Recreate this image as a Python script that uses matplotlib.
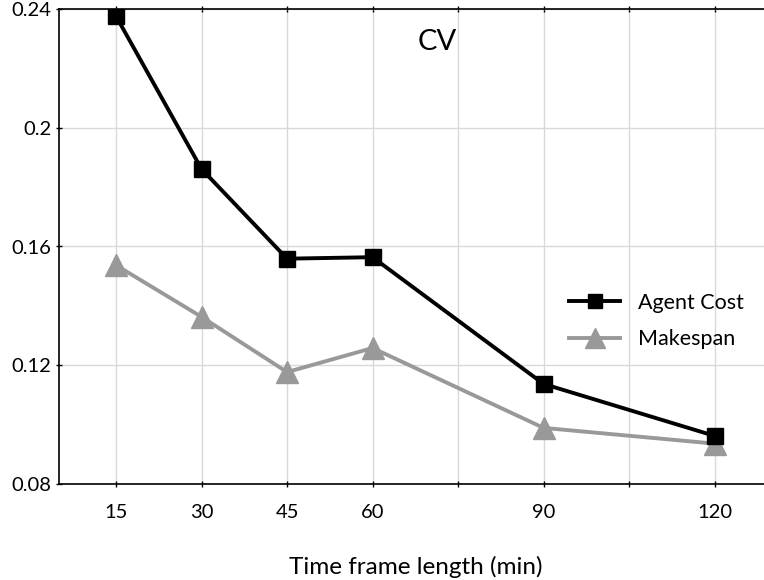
import matplotlib.pyplot as plt

plt.rcParams['font.family'] = ['Lato', 'DejaVu Sans']

frame_len = [15, 30, 45, 60, 90, 120]
agent_cost = [0.2376, 0.1861, 0.1559, 0.1564, 0.1137, 0.0962]
makespan = [0.1537, 0.1363, 0.1177, 0.1258, 0.0989, 0.0936]
tick_labels = ['15', '30', '45', '60', '90', '120']

fig = plt.figure(figsize=(7.64, 5.8), dpi=100)
ax = fig.add_axes([59 / 764, 1 - 484 / 580, 1 - 59 / 764 + 0.01, (484 - 9) / 580])

ax.plot(frame_len, agent_cost, color='black', lw=2.8, marker='s', ms=11,
        label='Agent Cost', zorder=3)
ax.plot(frame_len, makespan, color='#999999', lw=2.8, marker='^', ms=16,
        label='Makespan', zorder=2)

ax.set_xlim(5, 130)
ax.set_ylim(0.08, 0.24)
ax.set_xticks(frame_len)
ax.set_xticklabels(tick_labels)
ax.set_xticks([75, 105], minor=True)
ax.set_yticks([0.08, 0.12, 0.16, 0.2, 0.24])
ax.set_yticklabels(['0.08', '0.12', '0.16', '0.2', '0.24'])

ax.grid(True, which='both', color='#d9d9d9', lw=1)
ax.set_axisbelow(True)
ax.tick_params(axis='both', which='both', labelsize=14.5, direction='inout',
               length=5, width=1, top=True)
ax.tick_params(axis='x', pad=12)
ax.tick_params(axis='y', pad=3)
for s in ax.spines.values():
    s.set_linewidth(1.2)

ax.text(0.531, 0.93, 'CV', transform=ax.transAxes, fontsize=21,
        ha='center', va='center')
ax.set_xlabel('Time frame length (min)', fontsize=17.5, labelpad=25)

ax.legend(loc='center left', bbox_to_anchor=(0.688, 0.343), frameon=False,
          fontsize=15.5, handlelength=2.4, labelspacing=0.75, markerscale=0.9)

fig.savefig('out.png', dpi=100)
